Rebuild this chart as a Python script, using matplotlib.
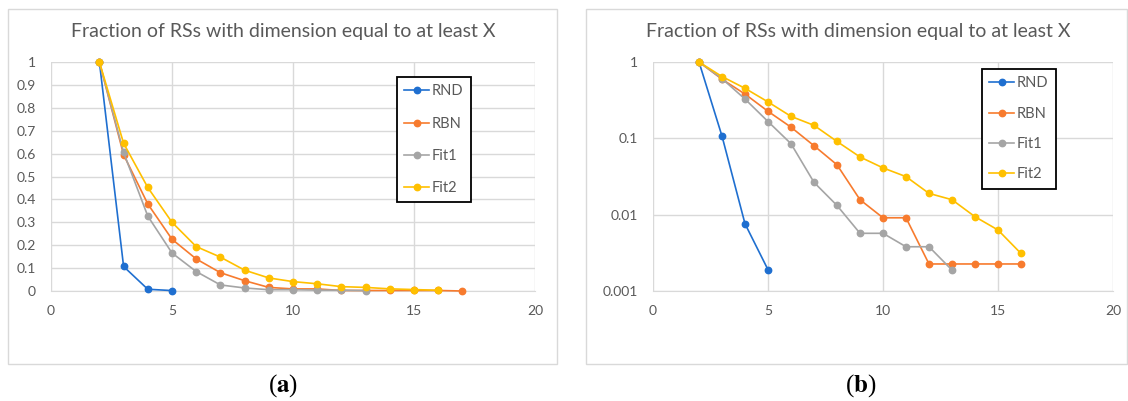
import numpy as np
import matplotlib.pyplot as plt
from matplotlib.patches import Rectangle

plt.rcParams['font.family'] = ['Lato', 'DejaVu Sans']
plt.rcParams['mathtext.fontset'] = 'stix'

# data
x_rnd = [2, 3, 4, 5]
y_rnd = [1.0, 0.107, 0.0076, 0.0019]

x_rbn = [2, 3, 4, 5, 6, 7, 8, 9, 10, 11, 12, 13, 14, 15, 16, 17]
y_rbn = [1.0, 0.595, 0.38, 0.226, 0.14, 0.080, 0.045, 0.0157, 0.0091, 0.0091,
         0.00226, 0.00226, 0.00226, 0.00226, 0.00226, 0.0]

x_fit1 = [2, 3, 4, 5, 6, 7, 8, 9, 10, 11, 12, 13]
y_fit1 = [1.0, 0.605, 0.327, 0.166, 0.085, 0.0265, 0.0132, 0.0057, 0.0057,
          0.0038, 0.0038, 0.00188]

x_fit2 = [2, 3, 4, 5, 6, 7, 8, 9, 10, 11, 12, 13, 14, 15, 16]
y_fit2 = [1.0, 0.645, 0.452, 0.30, 0.194, 0.148, 0.091, 0.057, 0.041, 0.0315,
          0.019, 0.0157, 0.0094, 0.0063, 0.0031]

series = [('RND', x_rnd, y_rnd, '#1f6fd0'),
          ('RBN', x_rbn, y_rbn, '#f77b2e'),
          ('Fit1', x_fit1, y_fit1, '#a5a5a5'),
          ('Fit2', x_fit2, y_fit2, '#ffc000')]

title = 'Fraction of RSs with dimension equal to at least X'
txt_col = '#595959'
grid_col = '#d9d9d9'

W, H = 1128, 401
fig = plt.figure(figsize=(W / 100, H / 100), dpi=100)

def fx(px):
    return px / W

def fy(py):
    return 1 - py / H

# panel frames
for x0, x1 in [(8, 557), (586, 1127)]:
    fig.patches.append(Rectangle((fx(x0), fy(364)), fx(x1 - x0), (364 - 9) / H,
                                 transform=fig.transFigure, fill=False,
                                 edgecolor=grid_col, lw=1))

ax1 = fig.add_axes([fx(51), fy(291), fx(484), 229 / H])
ax2 = fig.add_axes([fx(653), fy(291), fx(460), 229 / H])

for ax in (ax1, ax2):
    for name, xs, ys, c in series:
        ax.plot(xs, ys, color=c, lw=1.2, marker='o', ms=4.6, label=name,
                clip_on=False, zorder=3)
    ax.set_xlim(0, 20)
    ax.set_xticks([0, 5, 10, 15, 20])
    ax.grid(True, color=grid_col, lw=1)
    ax.set_axisbelow(True)
    for s in ['top', 'right', 'left']:
        ax.spines[s].set_visible(False)
    ax.spines['bottom'].set_color(grid_col)
    ax.tick_params(length=0, labelsize=10, labelcolor=txt_col)
    ax.tick_params(axis='y', pad=11)
    ax.tick_params(axis='x', pad=10)

ax1.set_ylim(0, 1)
yt = np.round(np.arange(0, 1.01, 0.1), 1)
ax1.set_yticks(yt)
ax1.set_yticklabels(['0' if v == 0 else ('1' if v == 1 else '%.1f' % v) for v in yt])

ax2.set_yscale('log', nonpositive='mask')
ax2.set_ylim(0.001, 1)
ax2.set_yticks([1, 0.1, 0.01, 0.001])
ax2.set_yticklabels(['1', '0.1', '0.01', '0.001'])
ax2.yaxis.set_minor_locator(plt.NullLocator())

for ax, anchor, sp in [(ax1, (0.715, 0.934), 1.25), (ax2, (0.715, 0.969), 1.12)]:
    leg = ax.legend(loc='upper left', bbox_to_anchor=anchor, borderaxespad=0,
                    fontsize=10.5, frameon=True, fancybox=False, framealpha=1,
                    edgecolor='black', labelspacing=sp, handlelength=1.7,
                    handletextpad=0.2, borderpad=0.5, labelcolor=txt_col)
    leg.get_frame().set_linewidth(1.3)

fig.text(fx(283), fy(32), title, ha='center', va='center', fontsize=14, color=txt_col)
fig.text(fx(858), fy(32), title, ha='center', va='center', fontsize=14, color=txt_col)

fig.text(fx(283), fy(386), r'($\mathbf{a}$)', ha='center', va='center',
         fontsize=18, family='Liberation Serif')
fig.text(fx(861), fy(386), r'($\mathbf{b}$)', ha='center', va='center',
         fontsize=18, family='Liberation Serif')

plt.savefig('out.png', dpi=100)
plt.close()
